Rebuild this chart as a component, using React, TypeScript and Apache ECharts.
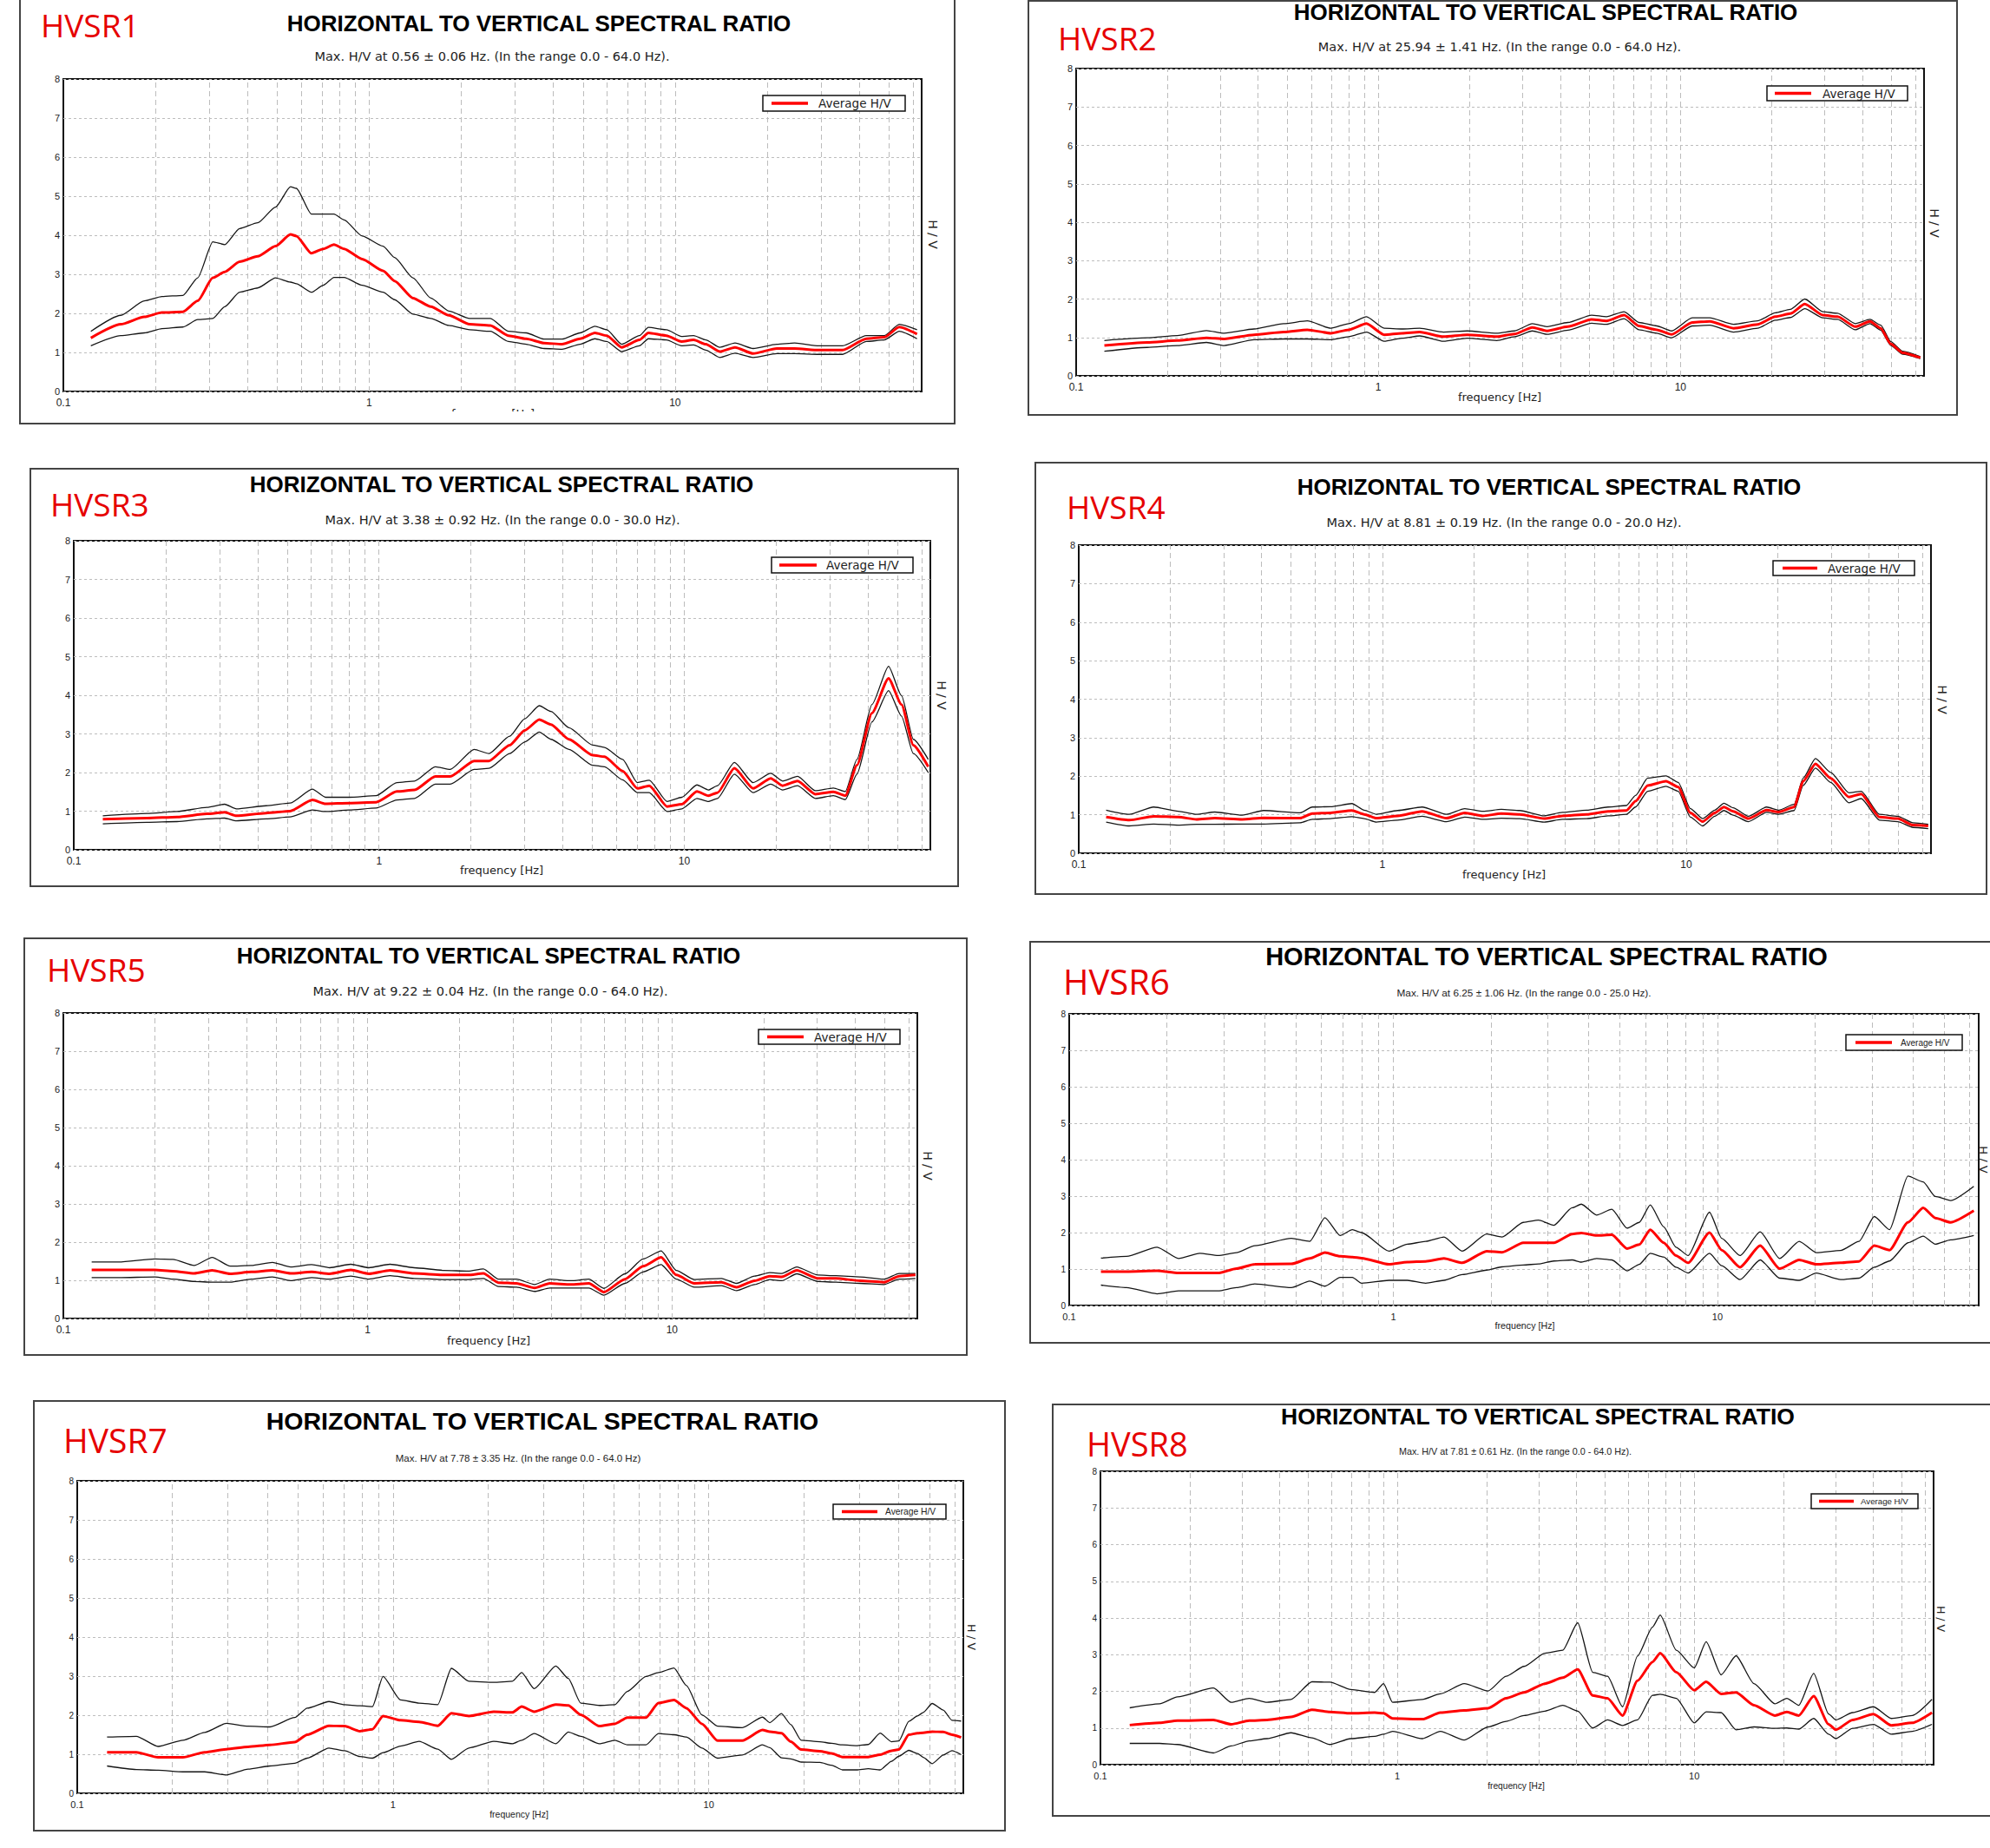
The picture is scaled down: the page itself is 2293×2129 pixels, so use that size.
import React, { useEffect, useRef } from 'react';
import * as echarts from 'echarts';

// ---------------- DATA ----------------
const TITLE = 'HORIZONTAL TO VERTICAL SPECTRAL RATIO';
const LEGEND_TEXT = 'Average H/V';
const Y_TITLE = 'H / V';
const X_TITLE = 'frequency [Hz]';
const X_TICKS = [0.1, 1, 10];
const X_TICK_LABELS = ['0.1', '1', '10'];
const MINOR_LINES = [0.2, 0.3, 0.4, 0.5, 0.6, 0.7, 0.8, 0.9, 1, 2, 3, 4, 5, 6, 7, 8, 9, 10, 20, 30, 40, 50, 60];

const LABELS = ['HVSR1', 'HVSR2', 'HVSR3', 'HVSR4', 'HVSR5', 'HVSR6', 'HVSR7', 'HVSR8'];
const SUBTITLES = [
  'Max. H/V at 0.56 ± 0.06 Hz. (In the range 0.0 - 64.0 Hz).',
  'Max. H/V at 25.94 ± 1.41 Hz. (In the range 0.0 - 64.0 Hz).',
  'Max. H/V at 3.38 ± 0.92 Hz. (In the range 0.0 - 30.0 Hz).',
  'Max. H/V at 8.81 ± 0.19 Hz. (In the range 0.0 - 20.0 Hz).',
  'Max. H/V at 9.22 ± 0.04 Hz. (In the range 0.0 - 64.0 Hz).',
  'Max. H/V at 6.25 ± 1.06 Hz. (In the range 0.0 - 25.0 Hz).',
  'Max. H/V at 7.78 ± 3.35 Hz. (In the range 0.0 - 64.0 Hz)',
  'Max. H/V at 7.81 ± 0.61 Hz. (In the range 0.0 - 64.0 Hz).',
];

// HVSR1
const freq1 = [0.123,0.154,0.184,0.210,0.246,0.275,0.308,0.337,0.377,0.432,0.494,0.553,0.578,0.647,0.708,0.767,0.828,0.948,1.11,1.21,1.39,1.59,1.82,2.13,2.49,2.85,3.26,3.73,4.27,4.89,5.47,5.98,6.69,7.65,8.18,9.37,10.5,11.5,12.6,14.0,15.7,18.0,21.5,24.6,29.5,35.3,42.2,48.3,54.1,61.8];
const mean1 = [1.37,1.72,1.91,2.02,2.04,2.32,2.91,3.06,3.32,3.46,3.72,4.02,3.98,3.54,3.65,3.76,3.65,3.39,3.09,2.83,2.39,2.17,1.95,1.72,1.69,1.43,1.35,1.24,1.21,1.35,1.50,1.43,1.13,1.32,1.50,1.43,1.28,1.32,1.21,1.02,1.13,0.97,1.10,1.10,1.06,1.06,1.35,1.39,1.65,1.47];
const upper1 = [1.54,1.95,2.32,2.43,2.46,2.91,3.83,3.76,4.17,4.32,4.72,5.24,5.20,4.54,4.54,4.54,4.39,3.98,3.72,3.43,2.91,2.39,2.06,1.87,1.87,1.54,1.50,1.34,1.34,1.50,1.67,1.58,1.21,1.43,1.64,1.58,1.41,1.43,1.32,1.13,1.24,1.10,1.21,1.24,1.17,1.17,1.43,1.43,1.72,1.58];
const lower1 = [1.17,1.43,1.50,1.61,1.65,1.84,1.87,2.17,2.54,2.65,2.91,2.80,2.76,2.54,2.72,2.92,2.92,2.72,2.54,2.35,1.98,1.87,1.69,1.58,1.54,1.28,1.21,1.10,1.08,1.21,1.35,1.28,1.02,1.17,1.35,1.32,1.17,1.19,1.06,0.87,0.98,0.87,0.97,0.97,0.95,0.95,1.28,1.32,1.54,1.35];

// HVSR2
const freq2 = [0.124,0.172,0.216,0.270,0.309,0.388,0.486,0.582,0.697,0.798,0.914,1.046,1.198,1.371,1.643,1.968,2.466,2.825,3.235,3.622,4.24,5.08,5.69,6.51,7.29,8.35,9.35,10.94,12.5,15.0,18.0,20.6,23.1,25.8,29.6,33.1,37.9,42.4,46.0,49.7,54.4,62.2];
const mean2 = [0.79,0.87,0.92,0.99,0.96,1.07,1.14,1.20,1.11,1.20,1.36,1.07,1.11,1.14,1.02,1.07,1.02,1.09,1.26,1.17,1.28,1.47,1.43,1.58,1.30,1.20,1.08,1.39,1.42,1.24,1.34,1.54,1.62,1.87,1.58,1.54,1.28,1.42,1.24,0.83,0.60,0.47];
const upper2 = [0.92,0.99,1.05,1.18,1.11,1.22,1.36,1.43,1.24,1.36,1.54,1.24,1.22,1.24,1.14,1.17,1.11,1.17,1.36,1.28,1.39,1.58,1.54,1.67,1.39,1.30,1.17,1.51,1.51,1.34,1.43,1.64,1.73,2.00,1.67,1.63,1.36,1.47,1.32,0.89,0.64,0.50];
const lower2 = [0.64,0.74,0.79,0.87,0.79,0.94,0.96,0.96,0.94,1.02,1.14,0.90,0.98,1.04,0.90,0.98,0.92,1.02,1.17,1.08,1.19,1.37,1.34,1.49,1.20,1.11,0.99,1.30,1.32,1.14,1.24,1.45,1.52,1.75,1.51,1.47,1.20,1.36,1.19,0.79,0.56,0.45];

// HVSR3
const freq3 = [0.1245,0.174,0.218,0.273,0.312,0.341,0.427,0.511,0.605,0.668,0.799,0.978,1.144,1.308,1.53,1.71,2.05,2.29,2.68,3.0,3.35,3.66,4.19,5.01,5.48,6.28,7.02,7.68,8.79,9.82,11.0,12.0,12.85,14.6,16.8,19.2,21.0,23.5,26.9,30.8,33.7,36.8,41.2,46.7,51.5,56.3,63.0];
const mean3 = [0.79,0.82,0.85,0.93,0.97,0.88,0.95,1.00,1.29,1.19,1.21,1.23,1.51,1.55,1.90,1.90,2.30,2.30,2.71,3.09,3.37,3.24,2.86,2.45,2.41,2.04,1.59,1.66,1.12,1.18,1.51,1.40,1.48,2.11,1.59,1.85,1.66,1.78,1.44,1.50,1.40,2.19,3.54,4.44,3.76,2.71,2.15];
const upper3 = [0.88,0.94,0.99,1.10,1.18,1.06,1.14,1.21,1.57,1.36,1.36,1.40,1.74,1.78,2.15,2.08,2.60,2.49,2.94,3.39,3.73,3.58,3.16,2.71,2.65,2.34,1.74,1.80,1.25,1.36,1.68,1.55,1.66,2.26,1.74,1.98,1.78,1.90,1.53,1.60,1.51,2.34,3.76,4.75,3.99,2.86,2.34];
const lower3 = [0.67,0.71,0.73,0.80,0.82,0.75,0.80,0.85,1.03,0.99,1.03,1.08,1.29,1.33,1.70,1.70,2.08,2.11,2.49,2.79,3.05,2.86,2.60,2.19,2.15,1.81,1.48,1.48,0.99,1.06,1.33,1.25,1.33,1.96,1.48,1.70,1.55,1.66,1.33,1.40,1.30,1.96,3.31,4.12,3.46,2.49,2.00];

// HVSR4
const freq4 = [0.1231,0.1468,0.1766,0.2125,0.244,0.2805,0.3452,0.4059,0.5357,0.5875,0.675,0.7936,0.8706,0.9548,1.1225,1.3507,1.625,1.866,2.145,2.464,2.830,3.405,3.912,4.706,5.534,6.357,6.813,7.472,8.585,9.417,10.33,11.33,12.43,13.32,14.28,16.02,18.41,20.20,22.67,24.29,26.65,29.92,34.37,37.70,43.31,49.76,55.85,62.68];
const mean4 = [0.94,0.86,0.96,0.94,0.88,0.91,0.88,0.92,0.91,1.03,1.05,1.11,1.01,0.91,0.97,1.09,0.91,1.05,0.97,1.03,1.01,0.90,0.97,1.01,1.09,1.11,1.35,1.76,1.87,1.72,1.05,0.82,1.05,1.20,1.09,0.90,1.12,1.07,1.20,1.87,2.32,1.95,1.46,1.54,0.94,0.90,0.73,0.71];
const upper4 = [1.12,1.01,1.20,1.09,1.01,1.07,0.99,1.11,1.05,1.20,1.21,1.29,1.12,1.01,1.11,1.20,1.01,1.16,1.09,1.14,1.11,0.97,1.06,1.12,1.20,1.24,1.50,1.95,2.01,1.84,1.16,0.90,1.12,1.30,1.18,0.96,1.20,1.12,1.27,1.95,2.46,2.10,1.57,1.61,1.01,0.96,0.79,0.75];
const lower4 = [0.81,0.71,0.76,0.73,0.75,0.75,0.76,0.76,0.79,0.88,0.90,0.95,0.90,0.81,0.86,0.96,0.82,0.94,0.88,0.91,0.90,0.81,0.88,0.90,0.97,1.01,1.20,1.61,1.74,1.61,0.94,0.71,0.96,1.11,0.99,0.82,1.06,1.01,1.11,1.76,2.21,1.84,1.31,1.42,0.86,0.82,0.67,0.64];

// HVSR5
const freq5 = [0.1239,0.1521,0.2000,0.2293,0.2690,0.3083,0.3535,0.4148,0.4866,0.5578,0.6544,0.7504,0.8801,1.009,1.184,1.421,1.784,2.141,2.400,2.690,3.084,3.536,3.963,4.648,5.330,5.973,7.006,8.035,9.213,10.33,11.84,14.54,16.29,18.68,20.94,22.94,25.70,30.15,34.57,41.48,49.77,55.78,63.1];
const mean5 = [1.27,1.27,1.27,1.24,1.18,1.26,1.17,1.22,1.26,1.18,1.22,1.17,1.27,1.17,1.26,1.18,1.14,1.14,1.18,0.94,0.92,0.80,0.92,0.89,0.92,0.69,1.03,1.37,1.60,1.14,0.92,0.95,0.82,0.99,1.11,1.09,1.26,1.05,1.05,0.99,0.95,1.11,1.14];
const upper5 = [1.48,1.48,1.56,1.55,1.39,1.60,1.37,1.39,1.47,1.35,1.41,1.33,1.42,1.33,1.42,1.33,1.26,1.24,1.30,1.03,1.03,0.89,1.03,0.99,1.03,0.79,1.17,1.56,1.77,1.26,1.02,1.05,0.92,1.11,1.20,1.18,1.35,1.14,1.12,1.09,1.03,1.18,1.18];
const lower5 = [1.07,1.07,1.09,1.03,0.97,0.95,0.95,1.03,1.09,0.99,1.07,1.03,1.11,1.03,1.12,1.05,1.02,1.02,1.05,0.84,0.82,0.71,0.80,0.80,0.80,0.61,0.92,1.22,1.41,1.03,0.82,0.86,0.73,0.89,1.02,0.99,1.17,0.97,0.95,0.92,0.89,1.03,1.05];

// HVSR6
const freq6 = [0.1253,0.1503,0.1867,0.2174,0.2529,0.2880,0.3281,0.3736,0.4846,0.5521,0.6153,0.6857,0.7478,0.7983,0.9701,1.105,1.258,1.433,1.632,1.941,2.164,2.518,2.807,3.128,3.563,3.802,4.238,4.723,5.265,5.741,6.206,6.828,7.446,8.122,9.452,10.31,11.74,13.55,15.56,17.88,20.19,24.01,27.35,30.48,33.97,38.70,43.13,47.02,52.42,61.80];
const mean6 = [0.93,0.93,0.95,0.89,0.89,0.89,1.01,1.13,1.14,1.29,1.45,1.35,1.33,1.30,1.13,1.19,1.21,1.29,1.17,1.49,1.46,1.72,1.72,1.72,1.96,1.99,1.92,1.94,1.56,1.67,2.08,1.72,1.37,1.17,2.00,1.52,1.05,1.64,1.01,1.25,1.13,1.17,1.21,1.64,1.52,2.28,2.68,2.40,2.28,2.60];
const upper6 = [1.30,1.35,1.60,1.29,1.43,1.37,1.45,1.64,1.84,1.76,2.41,1.92,2.08,2.00,1.49,1.68,1.76,1.88,1.49,1.96,1.88,2.28,2.34,2.20,2.68,2.78,2.48,2.64,2.12,2.28,2.76,2.16,1.60,1.37,2.56,1.84,1.37,2.02,1.29,1.76,1.45,1.51,1.76,2.44,2.08,3.55,3.39,2.99,2.88,3.27];
const lower6 = [0.56,0.49,0.32,0.40,0.40,0.40,0.49,0.59,0.49,0.67,0.53,0.77,0.77,0.61,0.69,0.69,0.61,0.69,0.85,0.97,1.06,1.11,1.14,1.22,1.25,1.19,1.29,1.25,0.95,1.13,1.43,1.33,1.05,0.89,1.43,1.09,0.71,1.25,0.75,0.69,0.89,0.71,0.75,1.05,1.22,1.72,1.90,1.68,1.80,1.92];

// HVSR7
const freq7 = [0.1243,0.1538,0.1803,0.2161,0.2532,0.2968,0.3478,0.4076,0.4886,0.5349,0.6269,0.7023,0.7864,0.861,0.9299,1.056,1.210,1.386,1.531,1.739,2.084,2.388,2.556,2.798,3.280,3.591,3.932,4.504,5.045,5.524,6.327,6.928,7.758,8.496,9.513,10.66,12.77,14.8,15.6,17.0,18.2,19.6,22.5,24.5,26.5,29.4,32.0,34.9,37.9,40.0,43.0,45.8,47.8,51.0,55.3,58.9,63.0];
const mean7 = [1.05,1.05,0.92,0.92,1.05,1.13,1.19,1.24,1.31,1.50,1.73,1.72,1.59,1.64,1.98,1.87,1.83,1.73,2.05,1.98,2.09,2.07,2.22,2.09,2.27,2.25,2.01,1.72,1.78,1.94,1.94,2.31,2.39,2.18,1.78,1.35,1.35,1.62,1.58,1.54,1.32,1.12,1.08,1.02,0.93,0.93,0.93,0.99,1.09,1.12,1.50,1.54,1.55,1.58,1.57,1.50,1.43];
const upper7 = [1.44,1.46,1.20,1.36,1.56,1.79,1.72,1.70,1.94,2.18,2.35,2.27,2.24,2.22,2.99,2.39,2.31,2.27,3.20,2.87,2.84,2.87,3.09,2.68,3.26,2.94,2.31,2.25,2.27,2.61,2.99,3.09,3.21,2.76,2.01,1.72,1.68,1.95,1.81,2.04,1.76,1.36,1.32,1.28,1.24,1.22,1.25,1.54,1.32,1.34,1.84,1.98,2.07,2.30,2.13,1.87,1.85];
const lower7 = [0.70,0.61,0.59,0.55,0.55,0.47,0.62,0.70,0.77,0.90,1.16,1.09,0.94,0.90,1.04,1.21,1.33,1.13,0.87,1.16,1.33,1.27,1.36,1.53,1.27,1.57,1.46,1.27,1.36,1.24,1.24,1.53,1.50,1.44,1.16,0.90,0.98,1.24,1.17,0.91,0.88,0.80,0.79,0.72,0.60,0.60,0.63,0.60,0.82,0.95,1.10,1.02,0.92,0.76,0.98,1.09,0.99];

// HVSR8
const freq8 = [0.1255,0.1582,0.1818,0.2401,0.2758,0.3170,0.3641,0.4384,0.5158,0.5925,0.6966,0.8387,0.8988,0.9636,1.215,1.396,1.680,2.022,2.324,2.671,3.141,3.608,4.051,4.549,5.107,5.736,6.441,7.232,7.679,8.703,10.0,10.97,12.32,13.83,15.89,18.69,20.51,22.49,25.26,28.36,29.99,34.14,40.14,46.13,54.26,63.22];
const mean8 = [1.08,1.14,1.20,1.22,1.10,1.20,1.22,1.30,1.50,1.44,1.40,1.42,1.40,1.26,1.24,1.42,1.48,1.54,1.81,1.97,2.21,2.37,2.60,1.89,1.81,1.34,2.29,2.80,3.04,2.52,2.03,2.26,1.93,1.97,1.62,1.34,1.44,1.34,1.87,1.10,0.95,1.22,1.38,1.07,1.14,1.42];
const upper8 = [1.55,1.66,1.85,2.09,1.70,1.81,1.70,1.78,2.26,2.25,2.05,1.97,2.21,1.70,1.78,1.93,2.21,2.01,2.41,2.68,3.04,3.12,3.87,2.52,2.41,1.58,2.96,3.75,4.08,3.12,2.64,3.35,2.45,2.97,2.21,1.66,1.81,1.62,2.49,1.38,1.22,1.42,1.58,1.26,1.34,1.78];
const lower8 = [0.58,0.58,0.55,0.32,0.51,0.65,0.71,0.87,0.73,0.55,0.71,0.77,0.83,0.91,0.71,0.91,0.67,1.03,1.18,1.34,1.46,1.62,1.46,1.00,1.22,1.07,1.22,1.89,1.92,1.81,1.14,1.44,1.42,0.95,1.03,0.99,1.00,0.97,1.26,0.83,0.71,0.99,1.10,0.83,0.91,1.10];

const SERIES_DATA = [
  { f: freq1, up: upper1, av: mean1, lo: lower1 },
  { f: freq2, up: upper2, av: mean2, lo: lower2 },
  { f: freq3, up: upper3, av: mean3, lo: lower3 },
  { f: freq4, up: upper4, av: mean4, lo: lower4 },
  { f: freq5, up: upper5, av: mean5, lo: lower5 },
  { f: freq6, up: upper6, av: mean6, lo: lower6 },
  { f: freq7, up: upper7, av: mean7, lo: lower7 },
  { f: freq8, up: upper8, av: mean8, lo: lower8 },
];

// ---------------- LAYOUT ----------------
const DV = 'DejaVu Sans';
const LS = 'Liberation Sans, Arial, sans-serif';
const W = 2293;
const H = 2129;

type Layout = {
  box: number[]; grid: number[]; title: number[]; label: number[];
  sub: [number, number, string, number]; legend: number[]; legendFont: [string, number];
  hv: number[]; freq: [number, number, string, number]; clip?: boolean; ySize: number; xSize: number;
};

const LAYOUT: Layout[] = [
  { box: [23, -4, 1077, 492], grid: [73, 91, 989, 360], title: [621, 27, 26], label: [47, 28, 37], sub: [567, 65, DV, 14.5], legend: [879, 110, 1043, 128, 889, 931, 943], legendFont: [DV, 13.5], hv: [1075, 270, 14], freq: [568, 476, DV, 13], clip: true, ySize: 11, xSize: 12 },
  { box: [1185, 1, 1070, 477], grid: [1240, 79, 977, 354], title: [1781, 14, 26], label: [1219, 43, 37], sub: [1728, 54, DV, 14.5], legend: [2036, 99, 2198, 116, 2045, 2087, 2100], legendFont: [DV, 13.5], hv: [2229, 257, 14], freq: [1728, 457, DV, 13], ySize: 11, xSize: 12 },
  { box: [35, 540, 1069, 481], grid: [85, 623, 987, 356], title: [578, 558, 26], label: [58, 580, 37], sub: [579, 599, DV, 14.5], legend: [889, 642, 1052, 660, 898, 941, 952], legendFont: [DV, 13.5], hv: [1085, 801, 14], freq: [578, 1002, DV, 13], ySize: 11, xSize: 12 },
  { box: [1193, 533, 1096, 497], grid: [1243, 628, 982, 355], title: [1785, 561, 26], label: [1229, 583, 37], sub: [1733, 602, DV, 14.5], legend: [2043, 646, 2206, 663, 2054, 2094, 2106], legendFont: [DV, 13.5], hv: [2238, 806, 14], freq: [1733, 1007, DV, 13], ySize: 11, xSize: 12 },
  { box: [28, 1081, 1086, 480], grid: [73, 1167, 984, 352], title: [563, 1101, 26], label: [54, 1116, 37], sub: [565, 1142, DV, 14.5], legend: [874, 1186, 1037, 1203, 884, 926, 938], legendFont: [DV, 13.5], hv: [1069, 1343, 14], freq: [563, 1544, DV, 13], ySize: 11, xSize: 12 },
  { box: [1187, 1085, 1120, 462], grid: [1232, 1168, 1048, 336], title: [1782, 1102, 29], label: [1225, 1130, 40], sub: [1756, 1144, LS, 11.8], legend: [2127, 1192, 2261, 1210, 2138, 2180, 2190], legendFont: [LS, 10], hv: [2285, 1336, 13], freq: [1757, 1527, LS, 10.7], ySize: 10, xSize: 11 },
  { box: [39, 1614, 1119, 495], grid: [89, 1706, 1021, 360], title: [625, 1637, 28.5], label: [73, 1658, 39], sub: [597, 1680, LS, 11.5], legend: [960, 1733, 1090, 1750, 970, 1011, 1020], legendFont: [LS, 10.3], hv: [1119, 1886, 12.5], freq: [598, 2090, LS, 10.5], ySize: 10, xSize: 11 },
  { box: [1213, 1618, 1100, 474], grid: [1268, 1695, 960, 338], title: [1772, 1632, 26.5], label: [1252, 1663, 38], sub: [1746, 1672, LS, 10.8], legend: [2087, 1721, 2210, 1738, 2096, 2136, 2144], legendFont: [LS, 9.7], hv: [2236, 1865, 12.5], freq: [1747, 2057, LS, 10.2], ySize: 10, xSize: 11 },
];

const fmtX = (v: number) => {
  for (let k = 0; k < X_TICKS.length; k++) {
    if (Math.abs(Math.log10(v) - Math.log10(X_TICKS[k])) < 1e-6) return X_TICK_LABELS[k];
  }
  return '';
};

function txt(x: number, y: number, text: string, size: number, family: string, opts: any = {}) {
  return {
    type: 'text', x, y, z: opts.z ?? 20, rotation: opts.rotation ?? 0,
    style: {
      text, fontSize: size, fontFamily: family, fontWeight: opts.weight ?? 'normal',
      fill: opts.color ?? '#111',
      textAlign: opts.align ?? 'center', align: opts.align ?? 'center',
      textVerticalAlign: 'middle', verticalAlign: 'middle',
    },
  };
}

function buildOption() {
  const grid: any[] = [];
  const xAxis: any[] = [];
  const yAxis: any[] = [];
  const series: any[] = [];
  const graphic: any[] = [];

  LAYOUT.forEach((L, i) => {
    const d = SERIES_DATA[i];
    grid.push({ left: L.grid[0], top: L.grid[1], width: L.grid[2], height: L.grid[3], show: true, borderColor: '#111', borderWidth: 2, backgroundColor: '#fff' });
    xAxis.push({
      type: 'log', logBase: 10, gridIndex: i, min: 0.1, max: 64,
      axisLine: { show: false }, axisTick: { show: false }, splitLine: { show: false },
      axisLabel: { formatter: fmtX, fontSize: L.xSize, color: '#222', margin: 7, fontFamily: LS, showMaxLabel: false },
    });
    yAxis.push({
      type: 'value', gridIndex: i, min: 0, max: 8, interval: 1,
      axisLine: { show: false }, axisTick: { show: false },
      axisLabel: { fontSize: L.ySize, color: '#222', margin: 4, fontFamily: LS },
      splitLine: { show: true, lineStyle: { color: '#bdbdbd', type: [3, 3], width: 1 } },
    });
    series.push({
      type: 'line', xAxisIndex: i, yAxisIndex: i, data: [], silent: true, z: 1,
      markLine: {
        silent: true, symbol: ['none', 'none'], label: { show: false }, z: 1,
        lineStyle: { color: '#bcbcbc', type: [6, 4], width: 1 },
        emphasis: { disabled: true },
        data: MINOR_LINES.map((v) => ({ xAxis: v })),
      },
    });
    const pts = (ys: number[]) => d.f.map((x, k) => [x, ys[k]]);
    const common = { type: 'line', xAxisIndex: i, yAxisIndex: i, symbol: 'none', showSymbol: false, silent: true, smooth: 0.2, smoothMonotone: 'x' };
    series.push({ ...common, data: pts(d.up), z: 3, lineStyle: { color: '#151515', width: 1.3 } });
    series.push({ ...common, data: pts(d.lo), z: 3, lineStyle: { color: '#151515', width: 1.3 } });
    series.push({ ...common, name: LEGEND_TEXT, data: pts(d.av), z: 4, lineStyle: { color: '#ff0000', width: 3 } });

    // frame texts
    graphic.push(txt(L.title[0], L.title[1], TITLE, L.title[2], LS, { weight: 'bold', color: '#000' }));
    graphic.push(txt(L.label[0], L.label[1], LABELS[i], L.label[2], 'Open Sans', { align: 'left', color: '#e60000' }));
    graphic.push(txt(L.sub[0], L.sub[1], SUBTITLES[i], L.sub[3], L.sub[2], { color: '#222' }));
    graphic.push(txt(L.hv[0], L.hv[1], Y_TITLE, L.hv[2], DV, { rotation: -Math.PI / 2, color: '#222' }));
    graphic.push(txt(L.freq[0], L.freq[1], X_TITLE, L.freq[3], L.freq[2], { color: '#222' }));
    if (L.clip) {
      graphic.push({ type: 'rect', z: 25, shape: { x: L.freq[0] - 80, y: L.freq[1] - 2, width: 160, height: 14 }, style: { fill: '#fff' } });
    }
    // legend
    const [x1, y1, x2, y2, lx1, lx2, tx] = L.legend;
    const cy = (y1 + y2) / 2;
    graphic.push({ type: 'rect', z: 30, shape: { x: x1, y: y1, width: x2 - x1, height: y2 - y1 }, style: { fill: '#fff', stroke: '#111', lineWidth: 1.5 } });
    graphic.push({ type: 'line', z: 31, shape: { x1: lx1, y1: cy, x2: lx2, y2: cy }, style: { stroke: '#ff0000', lineWidth: 3.5 } });
    graphic.push(txt(tx, cy, LEGEND_TEXT, L.legendFont[1], L.legendFont[0], { align: 'left', z: 31, color: '#222' }));
    // panel border
    graphic.push({ type: 'rect', z: 40, shape: { x: L.box[0], y: L.box[1], width: L.box[2], height: L.box[3] }, style: { fill: 'rgba(0,0,0,0)', stroke: '#444', lineWidth: 2 } });
  });

  return {
    animation: false,
    backgroundColor: '#fff',
    grid, xAxis, yAxis, series, graphic,
  };
}

export default function App() {
  const ref = useRef<HTMLDivElement>(null);
  useEffect(() => {
    document.body.style.margin = '0';
    if (!ref.current) return;
    const chart = echarts.init(ref.current, undefined, { renderer: 'svg', width: W, height: H });
    chart.setOption(buildOption() as any);
    return () => chart.dispose();
  }, []);
  return <div ref={ref} style={{ position: 'absolute', left: 0, top: 0, width: W, height: H, background: '#fff' }} />;
}
